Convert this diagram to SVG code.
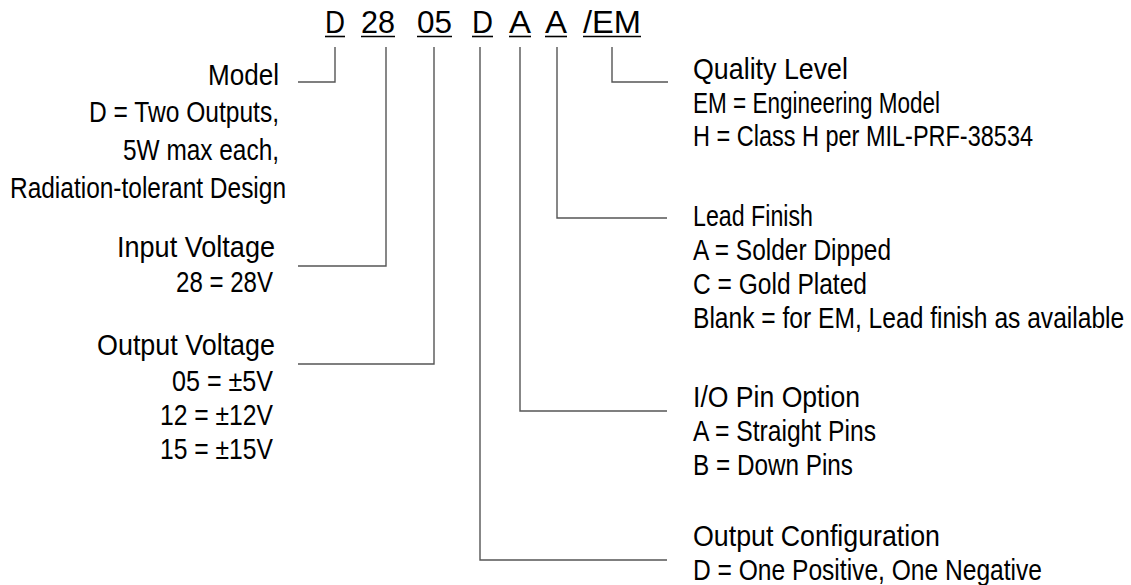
<svg xmlns="http://www.w3.org/2000/svg" width="1131" height="585" viewBox="0 0 1131 585">
<style>
text{font-family:"Liberation Sans",Arial,sans-serif;fill:#000;font-size:30px}
.code{font-size:32px}
.ul{stroke:#000;stroke-width:1.6}
.c{fill:none;stroke:#555;stroke-width:1.4}
</style>
<rect width="1131" height="585" fill="#fff"/>
<g id="code">
<text class="code" x="325" y="33" textLength="20" lengthAdjust="spacingAndGlyphs">D</text>
<text class="code" x="361" y="33" textLength="34" lengthAdjust="spacingAndGlyphs">28</text>
<text class="code" x="417" y="33" textLength="35" lengthAdjust="spacingAndGlyphs">05</text>
<text class="code" x="472" y="33" textLength="21" lengthAdjust="spacingAndGlyphs">D</text>
<text class="code" x="509" y="33" textLength="22" lengthAdjust="spacingAndGlyphs">A</text>
<text class="code" x="545" y="33" textLength="22" lengthAdjust="spacingAndGlyphs">A</text>
<text class="code" x="583" y="33" textLength="58" lengthAdjust="spacingAndGlyphs">/EM</text>
<line class="ul" x1="325" y1="36.5" x2="345" y2="36.5"/>
<line class="ul" x1="361" y1="36.5" x2="395" y2="36.5"/>
<line class="ul" x1="417" y1="36.5" x2="452" y2="36.5"/>
<line class="ul" x1="472" y1="36.5" x2="493" y2="36.5"/>
<line class="ul" x1="509" y1="36.5" x2="531" y2="36.5"/>
<line class="ul" x1="545" y1="36.5" x2="567" y2="36.5"/>
<line class="ul" x1="583" y1="36.5" x2="641" y2="36.5"/>
</g>
<g id="connectors">
<polyline class="c" points="298,82 335,82 335,47"/>
<polyline class="c" points="298,266 386,266 386,47"/>
<polyline class="c" points="298,364 434,364 434,47"/>
<polyline class="c" points="667,560 480,560 480,47"/>
<polyline class="c" points="667,411 520,411 520,47"/>
<polyline class="c" points="667,218 557,218 557,47"/>
<polyline class="c" points="668,82 612,82 612,47"/>
</g>
<g id="model">
<text x="208" y="85" textLength="71" lengthAdjust="spacingAndGlyphs">Model</text>
<text x="89" y="122" textLength="190" lengthAdjust="spacingAndGlyphs">D = Two Outputs,</text>
<text x="123" y="160" textLength="156" lengthAdjust="spacingAndGlyphs">5W max each,</text>
<text x="10" y="198" textLength="276" lengthAdjust="spacingAndGlyphs">Radiation-tolerant Design</text>
</g>
<g id="input-voltage">
<text x="117" y="257" textLength="158" lengthAdjust="spacingAndGlyphs">Input Voltage</text>
<text x="176" y="292" textLength="97" lengthAdjust="spacingAndGlyphs">28 = 28V</text>
</g>
<g id="output-voltage">
<text x="97" y="355" textLength="178" lengthAdjust="spacingAndGlyphs">Output Voltage</text>
<text x="172" y="391" textLength="101" lengthAdjust="spacingAndGlyphs">05 = ±5V</text>
<text x="160" y="425" textLength="113" lengthAdjust="spacingAndGlyphs">12 = ±12V</text>
<text x="160" y="459" textLength="113" lengthAdjust="spacingAndGlyphs">15 = ±15V</text>
</g>
<g id="quality-level">
<text x="693" y="79" textLength="155" lengthAdjust="spacingAndGlyphs">Quality Level</text>
<text x="693" y="113" textLength="247" lengthAdjust="spacingAndGlyphs">EM = Engineering Model</text>
<text x="693" y="146" textLength="340" lengthAdjust="spacingAndGlyphs">H = Class H per MIL-PRF-38534</text>
</g>
<g id="lead-finish">
<text x="693" y="226" textLength="120" lengthAdjust="spacingAndGlyphs">Lead Finish</text>
<text x="693" y="260" textLength="198" lengthAdjust="spacingAndGlyphs">A = Solder Dipped</text>
<text x="693" y="294" textLength="174" lengthAdjust="spacingAndGlyphs">C = Gold Plated</text>
<text transform="translate(693,328) scale(0.82,1)" x="0" y="0">Blank = for EM, Lead finish as available</text>
</g>
<g id="io-pin-option">
<text x="693" y="407" textLength="167" lengthAdjust="spacingAndGlyphs">I/O Pin Option</text>
<text x="693" y="441" textLength="183" lengthAdjust="spacingAndGlyphs">A = Straight Pins</text>
<text x="693" y="475" textLength="160" lengthAdjust="spacingAndGlyphs">B = Down Pins</text>
</g>
<g id="output-configuration">
<text x="693" y="546" textLength="247" lengthAdjust="spacingAndGlyphs">Output Configuration</text>
<text x="693" y="580" textLength="349" lengthAdjust="spacingAndGlyphs">D = One Positive, One Negative</text>
</g>
</svg>
